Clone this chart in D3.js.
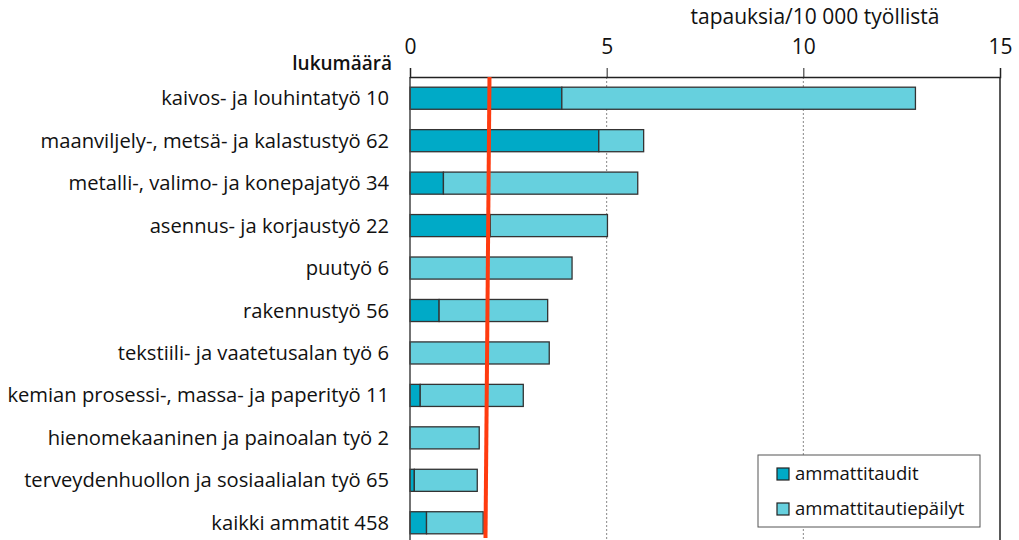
<!DOCTYPE html>
<html>
<head>
<meta charset="utf-8">
<script src="https://cdn.jsdelivr.net/npm/d3@7"></script>
<style>
body { margin: 0; background: #fff; }
text { font-family: "Open Sans", "Noto Sans", sans-serif; fill: #111; }
</style>
</head>
<body>
<script>
// ammattiryhmät ja tapaukset / 10 000 työllistä
var categories = [
    "kaivos- ja louhintatyö 10",
    "maanviljely-, metsä- ja kalastustyö 62",
    "metalli-, valimo- ja konepajatyö 34",
    "asennus- ja korjaustyö 22",
    "puutyö 6",
    "rakennustyö 56",
    "tekstiili- ja vaatetusalan työ 6",
    "kemian prosessi-, massa- ja paperityö 11",
    "hienomekaaninen ja painoalan työ 2",
    "terveydenhuollon ja sosiaalialan työ 65",
    "kaikki ammatit 458"
];
var ammattitaudit = [3.86, 4.80, 0.85, 2.04, 0, 0.74, 0, 0.26, 0, 0.11, 0.42];
var epailyt = [8.99, 1.14, 4.94, 2.98, 4.12, 2.76, 3.54, 2.62, 1.76, 1.60, 1.44];
var keskiarvo = 1.97;
var xTicks = [0, 5, 10, 15];
var seriesNames = ["ammattitaudit", "ammattitautiepäilyt"];
var colors = ["#00aac7", "#66d0de"];

var width = 1019, height = 540;
var plotLeft = 410, plotRight = 1000, plotTop = 77, plotBottom = 544;

var svg = d3.select("body").append("svg")
    .attr("width", width)
    .attr("height", height);

var x = d3.scaleLinear().domain([0, 15]).range([plotLeft, plotRight]);
var y = d3.scaleBand().domain(categories).range([plotTop, plotBottom])
    .paddingInner(0.48).paddingOuter(0.24);

// gridlines
svg.append("g").selectAll("line")
    .data(xTicks.filter(function (d) { return d > 0 && d < 15; }))
    .enter().append("line")
    .attr("x1", function (d) { return x(d); })
    .attr("x2", function (d) { return x(d); })
    .attr("y1", plotTop).attr("y2", height)
    .attr("stroke", "#888")
    .attr("stroke-width", 1)
    .attr("stroke-dasharray", "2,2");

// bars
var rows = categories.map(function (c, i) {
    return { name: c, a: ammattitaudit[i], b: epailyt[i] };
});

var bars = svg.append("g");
rows.forEach(function (r) {
    if (r.a > 0) {
        bars.append("rect")
            .attr("x", x(0))
            .attr("y", y(r.name))
            .attr("width", x(r.a) - x(0))
            .attr("height", y.bandwidth())
            .attr("fill", colors[0])
            .attr("stroke", "#333")
            .attr("stroke-width", 1.3);
    }
    bars.append("rect")
        .attr("x", x(r.a))
        .attr("y", y(r.name))
        .attr("width", x(r.a + r.b) - x(r.a))
        .attr("height", y.bandwidth())
        .attr("fill", colors[1])
        .attr("stroke", "#333")
        .attr("stroke-width", 1.3);
});

// frame
svg.append("line").attr("x1", plotLeft).attr("x2", plotLeft).attr("y1", plotTop).attr("y2", height)
    .attr("stroke", "#444").attr("stroke-width", 1.5);
svg.append("line").attr("x1", plotRight).attr("x2", plotRight).attr("y1", plotTop).attr("y2", height)
    .attr("stroke", "#222").attr("stroke-width", 1.5);

// top axis
var axis = svg.append("g")
    .attr("transform", "translate(0," + plotTop + ")")
    .call(d3.axisTop(x).tickValues(xTicks).tickSize(9).tickPadding(14));
axis.select(".domain").attr("stroke", "#222").attr("stroke-width", 1.5);
axis.selectAll(".tick line").attr("stroke", "#222");
axis.selectAll(".tick text")
    .style("font-size", "21px")
    .attr("fill", "#111");

// category labels
svg.append("g").selectAll("text")
    .data(categories)
    .enter().append("text")
    .attr("x", 389)
    .attr("y", function (d) { return y(d) + y.bandwidth() / 2; })
    .attr("dy", "0.35em")
    .attr("text-anchor", "end")
    .style("font-size", "20.2px")
    .text(function (d) { return d; });

// red average line
svg.append("line")
    .attr("x1", x(keskiarvo) + 2).attr("x2", x(keskiarvo) - 2)
    .attr("y1", plotTop).attr("y2", 538)
    .attr("stroke", "#ff3b0f")
    .attr("stroke-width", 4);

// titles
svg.append("text")
    .attr("x", 815).attr("y", 24)
    .attr("text-anchor", "middle")
    .style("font-size", "21px")
    .text("tapauksia/10 000 työllistä");
svg.append("text")
    .attr("x", 392).attr("y", 70)
    .attr("text-anchor", "end")
    .style("font-size", "19px")
    .style("font-weight", "600")
    .text("lukumäärä");

// legend
var lg = svg.append("g").attr("transform", "translate(758,455)");
lg.append("rect").attr("width", 222).attr("height", 72)
    .attr("fill", "#fff").attr("stroke", "#555").attr("stroke-width", 1);
seriesNames.forEach(function (s, i) {
    lg.append("rect")
        .attr("x", 19).attr("y", 13 + i * 35)
        .attr("width", 12).attr("height", 12)
        .attr("fill", colors[i]).attr("stroke", "#222").attr("stroke-width", 1.2);
    lg.append("text")
        .attr("x", 37).attr("y", 19 + i * 35)
        .attr("dy", "0.35em")
        .style("font-size", "18.5px")
        .text(s);
});
</script>
</body>
</html>
